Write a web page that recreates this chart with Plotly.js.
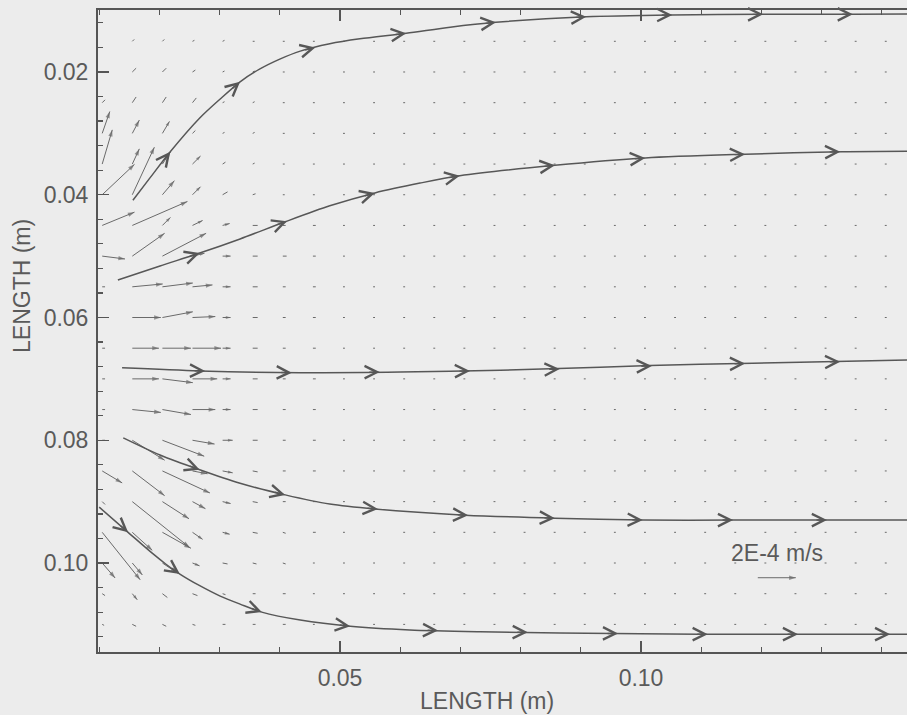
<!DOCTYPE html>
<html>
<head>
<meta charset="utf-8">
<script src="https://cdn.plot.ly/plotly-3.0.1.min.js"></script>
<style>
html,body{margin:0;padding:0;overflow:hidden;background:#ececec;width:907px;height:715px}
#chart{width:960px;height:715px}
</style>
</head>
<body>
<div id="chart"></div>
<script>
// ---------- data ----------
// quiver grid (m)
const gridX = [0.0105, 0.0155, 0.0205, 0.0255, 0.0305, 0.0355, 0.0405, 0.0455, 0.0505, 0.0555, 0.0605, 0.0655, 0.0705, 0.0755, 0.0805, 0.0855, 0.0905, 0.0955, 0.1005, 0.1055, 0.1105, 0.1155, 0.1205, 0.1255, 0.1305, 0.1355, 0.1405];
const gridY = [0.015, 0.020, 0.025, 0.030, 0.035, 0.040, 0.045, 0.050, 0.055, 0.060, 0.065, 0.070, 0.075, 0.080, 0.085, 0.090, 0.095, 0.100, 0.105, 0.110];

// velocity components, units of 1e-5 m/s (v positive = increasing LENGTH on the vertical axis)
const uField = [
 [0,1,1,1,1,1,1, 1,1,1,1,1,1,1,1,1,1,1,1,1,1,1,1,1,1,1,1],
 [0,2,2,1.5,1,1,1, 1,1,1,1,1,1,1,1,1,1,1,1,1,1,1,1,1,1,1,1],
 [1.5,2,2,2,1,1,1, 1,1,1,1,1,1,1,1,1,1,1,1,1,1,1,1,1,1,1,1],
 [4,3.7,3.7,1.5,1,1,1, 1,1,1,1,1,1,1,1,1,1,1,1,1,1,1,1,1,1,1,1],
 [5.3,3.7,4.2,4.2,1.5,1,1, 1,1,1,1,1,1,1,1,1,1,1,1,1,1,1,1,1,1,1,1],
 [17,11.6,6.3,4.2,2.6,1.5,1, 1,1,1,1,1,1,1,1,1,1,1,1,1,1,1,1,1,1,1,1],
 [17,29,4.2,5.3,3.7,2.6,1.5, 1.5,1,1,1,1,1,1,1,1,1,1,1,1,1,1,1,1,1,1,1],
 [12,17,23,6.3,4.2,2.6,2, 1.5,1,1,1,1,1,1,1,1,1,1,1,1,1,1,1,1,1,1,1],
 [1.5,16,16,10.5,4.2,2.6,1.5, 1.5,1,1,1,1,1,1,1,1,1,1,1,1,1,1,1,1,1,1,1],
 [1.5,15,16,12,4.2,2.6,1.5, 1.5,1,1,1,1,1,1,1,1,1,1,1,1,1,1,1,1,1,1,1],
 [1.5,14,15,15,4.2,2.6,1.5, 1.5,1,1,1,1,1,1,1,1,1,1,1,1,1,1,1,1,1,1,1],
 [1.5,14,16,13,4.2,2.6,1.5, 1.5,1,1,1,1,1,1,1,1,1,1,1,1,1,1,1,1,1,1,1],
 [1.5,15,15,12,4.2,2.6,1.5, 1.5,1,1,1,1,1,1,1,1,1,1,1,1,1,1,1,1,1,1,1],
 [1.5,17,22,11.6,5.3,2.6,1.5, 1.5,1,1,1,1,1,1,1,1,1,1,1,1,1,1,1,1,1,1,1],
 [10.5,17,25,7.9,5.3,2.6,1.5, 1.5,1,1,1,1,1,1,1,1,1,1,1,1,1,1,1,1,1,1,1],
 [1.5,30,14,6.8,4.2,2.6,1.5, 1.5,1,1,1,1,1,1,1,1,1,1,1,1,1,1,1,1,1,1,1],
 [20,10.5,15,5.3,3.7,2.6,1.5, 1.5,1,1,1,1,1,1,1,1,1,1,1,1,1,1,1,1,1,1,1],
 [6.8,5.3,7.9,3.7,2.6,2,1.5, 1,1,1,1,1,1,1,1,1,1,1,1,1,1,1,1,1,1,1,1],
 [1.5,2.6,2.6,2.6,1.5,1.5,1.5, 1,1,1,1,1,1,1,1,1,1,1,1,1,1,1,1,1,1,1,1],
 [1,2,2,1.5,1.5,1.5,1.5, 1,1,1,1,1,1,1,1,1,1,1,1,1,1,1,1,1,1,1,1]
];
const vField = [
 [0,-1,-1,-0.5,-0.5,0,0, 0,0,0,0,0,0,0,0,0,0,0,0,0,0,0,0,0,0,0,0],
 [0,-2,-2,-1,-0.5,-0.5,0, 0,0,0,0,0,0,0,0,0,0,0,0,0,0,0,0,0,0,0,0],
 [-1.5,-3,-3,-2.5,-0.5,-0.5,0, 0,0,0,0,0,0,0,0,0,0,0,0,0,0,0,0,0,0,0,0],
 [-11.5,-7,-6.3,-1.5,-0.5,-0.5,0, 0,0,0,0,0,0,0,0,0,0,0,0,0,0,0,0,0,0,0,0],
 [-18,-8,-6.3,-4.2,-1,-0.5,0, 0,0,0,0,0,0,0,0,0,0,0,0,0,0,0,0,0,0,0,0],
 [-16,-25,-7.4,-4.2,-1.5,-0.5,0, 0,0,0,0,0,0,0,0,0,0,0,0,0,0,0,0,0,0,0,0],
 [-7,-12.6,-4.2,-2.6,-1,0,0, 0,0,0,0,0,0,0,0,0,0,0,0,0,0,0,0,0,0,0,0],
 [1.5,-12,-12,-1.5,0,0,0, 0,0,0,0,0,0,0,0,0,0,0,0,0,0,0,0,0,0,0,0],
 [0,-1.5,-2,-1,0,0,0, 0,0,0,0,0,0,0,0,0,0,0,0,0,0,0,0,0,0,0,0],
 [0,0,-3,-0.5,0,0,0, 0,0,0,0,0,0,0,0,0,0,0,0,0,0,0,0,0,0,0,0],
 [0,0,0,0,0,0,0, 0,0,0,0,0,0,0,0,0,0,0,0,0,0,0,0,0,0,0,0],
 [0,0,2,0,0,0,0, 0,0,0,0,0,0,0,0,0,0,0,0,0,0,0,0,0,0,0,0],
 [0,1.5,2.6,0,0,0,0, 0,0,0,0,0,0,0,0,0,0,0,0,0,0,0,0,0,0,0,0],
 [0,10.5,8.4,2,0,0,0, 0,0,0,0,0,0,0,0,0,0,0,0,0,0,0,0,0,0,0,0],
 [6.3,13,11.6,1.5,1,0.5,0, 0,0,0,0,0,0,0,0,0,0,0,0,0,0,0,0,0,0,0,0],
 [1.5,24,9,3.7,1,0.5,0, 0,0,0,0,0,0,0,0,0,0,0,0,0,0,0,0,0,0,0,0],
 [25,9.5,8.4,3.7,1,0.5,0.5, 0,0,0,0,0,0,0,0,0,0,0,0,0,0,0,0,0,0,0,0],
 [7.9,6.3,5.3,1.5,0.5,0.5,0.5, 0,0,0,0,0,0,0,0,0,0,0,0,0,0,0,0,0,0,0,0],
 [1,3.2,2,1,0.5,0,0, 0,0,0,0,0,0,0,0,0,0,0,0,0,0,0,0,0,0,0,0],
 [0.5,1,1,0.5,0,0,0, 0,0,0,0,0,0,0,0,0,0,0,0,0,0,0,0,0,0,0,0]
];

// reference (key) vector
const keyX = [0.1194];
const keyY = [0.1024];
const keyU = [20];   // 2E-4 m/s
const keyV = [0];
const keyLabel = "2E-4 m/s";

// streamlines
const s1x = [0.0156, 0.0184, 0.0218, 0.0267, 0.0301, 0.0334, 0.0367, 0.0400, 0.0434, 0.0483, 0.0533, 0.0610, 0.0683, 0.0759, 0.0909, 0.1051, 0.1203, 0.1352, 0.1500];
const s1y = [0.0409, 0.0373, 0.0330, 0.0275, 0.0244, 0.0216, 0.0195, 0.0179, 0.0166, 0.0154, 0.0146, 0.0137, 0.0127, 0.0119, 0.0110, 0.0107, 0.0106, 0.0106, 0.0105];
const s2x = [0.0131, 0.0201, 0.0267, 0.0334, 0.0409, 0.0483, 0.0558, 0.0633, 0.0699, 0.0857, 0.1007, 0.1173, 0.1334, 0.1500];
const s2y = [0.0539, 0.0516, 0.0495, 0.0472, 0.0444, 0.0418, 0.0397, 0.0381, 0.0369, 0.0352, 0.0340, 0.0334, 0.0330, 0.0329];
const s3x = [0.0138, 0.0267, 0.0434, 0.0600, 0.0766, 0.0932, 0.1098, 0.1264, 0.1500];
const s3y = [0.0682, 0.0687, 0.0690, 0.0689, 0.0686, 0.0681, 0.0676, 0.0673, 0.0668];
const s4x = [0.0140, 0.0201, 0.0267, 0.0334, 0.0409, 0.0483, 0.0558, 0.0708, 0.0857, 0.1003, 0.1153, 0.1309, 0.1500];
const s4y = [0.0796, 0.0824, 0.0848, 0.0870, 0.0889, 0.0904, 0.0912, 0.0922, 0.0927, 0.0930, 0.0930, 0.0930, 0.0930];
const s5x = [0.0100, 0.0148, 0.0188, 0.0211, 0.0234, 0.0267, 0.0301, 0.0334, 0.0370, 0.0434, 0.0517, 0.0616, 0.0733, 0.0865, 0.1098, 0.1500];
const s5y = [0.0909, 0.0950, 0.0984, 0.1002, 0.1018, 0.1037, 0.1054, 0.1067, 0.1080, 0.1093, 0.1103, 0.1109, 0.1112, 0.1114, 0.1116, 0.1116];

// streamline arrowhead positions
const h1x = [0.0218, 0.0334, 0.0459, 0.0610, 0.0759, 0.0909, 0.1052, 0.1203, 0.1352];
const h1y = [0.0330, 0.0216, 0.0160, 0.0137, 0.0119, 0.0110, 0.0107, 0.0106, 0.0106];
const h2x = [0.0267, 0.0412, 0.0558, 0.0699, 0.0857, 0.1007, 0.1173, 0.1331];
const h2y = [0.0495, 0.0443, 0.0397, 0.0369, 0.0352, 0.0340, 0.0334, 0.0330];
const h3x = [0.0276, 0.0420, 0.0566, 0.0716, 0.0865, 0.1018, 0.1173, 0.1331];
const h3y = [0.0687, 0.0690, 0.0689, 0.0687, 0.0684, 0.0679, 0.0675, 0.0672];
const h4x = [0.0267, 0.0409, 0.0563, 0.0713, 0.0857, 0.1003, 0.1153, 0.1309];
const h4y = [0.0848, 0.0889, 0.0912, 0.0922, 0.0927, 0.0930, 0.0930, 0.0930];
const h5x = [0.0148, 0.0234, 0.0370, 0.0517, 0.0663, 0.0812, 0.0962, 0.1111, 0.1261, 0.1414];
const h5y = [0.0950, 0.1018, 0.1080, 0.1103, 0.1110, 0.1113, 0.1115, 0.1116, 0.1116, 0.1116];

const axisTitle = "LENGTH (m)";

// ---------- geometry / style ----------
const xRange = [0.0098, 0.15];
const yRange = [0.1145, 0.0099];
const W = 960, H = 715, M = {l: 98, r: 18, t: 10, b: 63};
const plotW = W - M.l - M.r, plotH = H - M.t - M.b;
const pxPerX = plotW / (xRange[1] - xRange[0]);
const pxPerY = plotH / (yRange[0] - yRange[1]);
const PX_PER_UNIT = 1.9;         // arrow length in px per 1e-5 m/s
const INK = '#555555';
const TXT = '#5a5a5a';
const FONT = 'Liberation Sans, Arial, Helvetica, sans-serif';
const FS = 23;

// ---------- quiver ----------
const qx = [], qy = [], hx = [], hy = [], ha = [], hs = [];
function addVec(x0, y0, u, v) {
  const du = u * PX_PER_UNIT, dv = v * PX_PER_UNIT;
  const x1 = x0 + du / pxPerX, y1 = y0 + dv / pxPerY;
  qx.push(x0, x1, null); qy.push(y0, y1, null);
  const L = Math.hypot(du, dv);
  if (L >= 7) {
    hx.push(x1); hy.push(y1);
    ha.push(Math.atan2(du, -dv) * 180 / Math.PI);
    hs.push(L >= 14 ? 7 : 5);
  }
}
gridY.forEach((y0, j) => gridX.forEach((x0, k) => addVec(x0, y0, (uField[j] && uField[j][k]) || 0, (vField[j] && vField[j][k]) || 0)));
keyX.forEach((x0, i) => addVec(x0, keyY[i], keyU[i], keyV[i]));

const traces = [
  {x: qx, y: qy, mode: 'lines', type: 'scatter', line: {color: '#6a6a6a', width: 1}, hoverinfo: 'skip', cliponaxis: false},
  {x: hx, y: hy, mode: 'markers', type: 'scatter', hoverinfo: 'skip', cliponaxis: false,
   marker: {symbol: 'arrow', size: hs, angle: ha, color: '#6a6a6a', line: {width: 0}}}
];

const streams = [[s1x, s1y, h1x, h1y], [s2x, s2y, h2x, h2y], [s3x, s3y, h3x, h3y], [s4x, s4y, h4x, h4y], [s5x, s5y, h5x, h5y]];
const annotations = [];
streams.forEach(([sx, sy, hxs, hys]) => {
  traces.push({x: sx, y: sy, mode: 'lines', type: 'scatter', hoverinfo: 'skip', cliponaxis: false,
    line: {color: '#575757', width: 1.5, shape: 'spline', smoothing: 0.8}});
  hxs.forEach((px, i) => {
    const py = hys[i];
    let s = 0;
    while (s < sx.length - 2 && sx[s + 1] < px) s++;
    let dx = (sx[s + 1] - sx[s]) * pxPerX, dy = (sy[s + 1] - sy[s]) * pxPerY;
    const n = Math.hypot(dx, dy) || 1; dx /= n; dy /= n;
    const back = 12;
    annotations.push({x: px, y: py, xref: 'x', yref: 'y',
      ax: px - dx * back / pxPerX, ay: py - dy * back / pxPerY, axref: 'x', ayref: 'y',
      showarrow: true, arrowhead: 5, arrowsize: 1.75, arrowwidth: 1.4, arrowcolor: '#575757', text: '', standoff: 0});
  });
});

annotations.push({xref: 'paper', yref: 'paper', x: (487 - M.l) / plotW, y: (M.t + plotH - 701) / plotH,
  text: axisTitle, showarrow: false, xanchor: 'center', yanchor: 'middle', font: {family: FONT, size: FS, color: TXT}});
annotations.push({xref: 'paper', yref: 'paper', x: (22 - M.l) / plotW, y: (M.t + plotH - 286) / plotH,
  text: axisTitle, textangle: -90, showarrow: false, xanchor: 'center', yanchor: 'middle', font: {family: FONT, size: FS, color: TXT}});
annotations.push({xref: 'x', yref: 'y', x: 0.1226, y: 0.0984, text: keyLabel, showarrow: false,
  xanchor: 'center', yanchor: 'middle', font: {family: FONT, size: FS, color: TXT}});

const axisCommon = {
  showgrid: false, zeroline: false, showline: true, linecolor: INK, linewidth: 2, mirror: 'ticks',
  ticks: 'inside', ticklen: 11, tickwidth: 1.5, tickcolor: INK, tickformat: '.2f',
  tickfont: {family: FONT, size: FS, color: TXT}
};

const layout = {
  width: W, height: H, margin: M, showlegend: false,
  paper_bgcolor: '#ececec', plot_bgcolor: '#ededed',
  xaxis: Object.assign({}, axisCommon, {range: xRange, tick0: 0, dtick: 0.05, ticklabelstandoff: 4,
    minor: {tick0: 0, dtick: 0.01, ticks: 'inside', ticklen: 5, tickwidth: 1.2, tickcolor: INK}}),
  yaxis: Object.assign({}, axisCommon, {range: yRange, tick0: 0, dtick: 0.02, ticklabelstandoff: 3,
    minor: {tick0: 0, dtick: 0.004, ticks: 'inside', ticklen: 5, tickwidth: 1.2, tickcolor: INK}}),
  annotations: annotations
};

Plotly.newPlot('chart', traces, layout, {staticPlot: true, displayModeBar: false});
</script>
</body>
</html>
